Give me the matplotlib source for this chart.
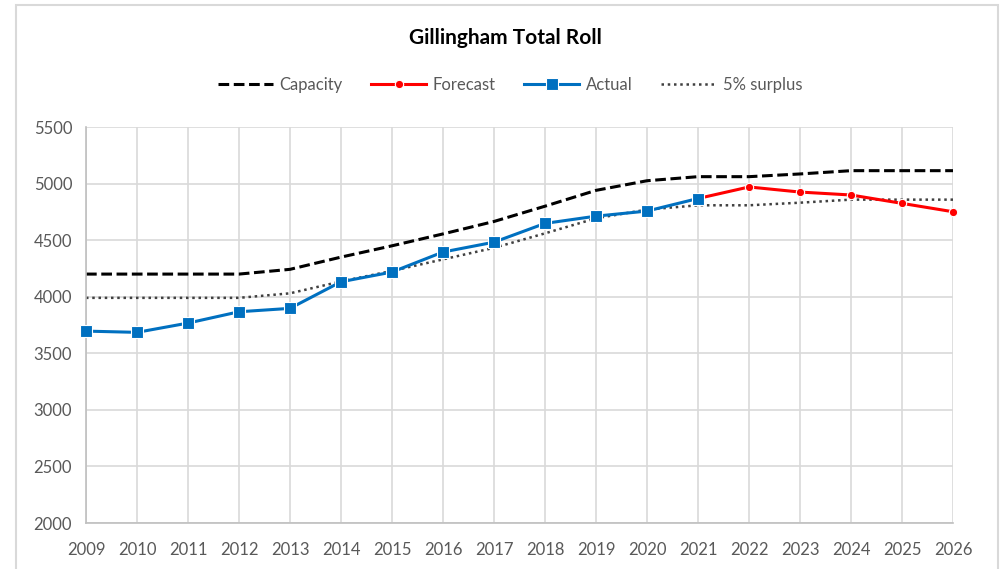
import matplotlib
matplotlib.use("Agg")
import matplotlib.pyplot as plt
from matplotlib.patches import Rectangle

years = list(range(2009, 2027))
capacity = [4200, 4200, 4200, 4200, 4242, 4350, 4450, 4555, 4665, 4800, 4940, 5025, 5061, 5061, 5085, 5114, 5114, 5114]
forecast_years = [2021, 2022, 2023, 2024, 2025, 2026]
forecast = [4868, 4970, 4925, 4899, 4825, 4751]
actual_years = list(range(2009, 2022))
actual = [3696, 3685, 3767, 3867, 3897, 4132, 4218, 4395, 4482, 4648, 4712, 4757, 4868]
surplus = [3990, 3990, 3990, 3990, 4030, 4135, 4228, 4330, 4432, 4560, 4693, 4770, 4808, 4808, 4831, 4858, 4858, 4858]
yticks = [2000, 2500, 3000, 3500, 4000, 4500, 5000, 5500]

plt.rcParams['font.family'] = ['Lato', 'DejaVu Sans']

fig = plt.figure(figsize=(10.04, 5.69), dpi=100)
ax = fig.add_axes([86/1004, 1-523/569, (953-86)/1004, (523-127)/569])

# outer chart border
fig.patches.append(Rectangle((16/1004, -0.05), (998-16)/1004, 1.05 - 5/569,
                             transform=fig.transFigure, fill=False,
                             edgecolor='#d9d9d9', linewidth=1.5))

l1, = ax.plot(years, capacity, color='black', linestyle=(0, (3.5, 1.5)), linewidth=2.2, label='Capacity')
l2, = ax.plot(forecast_years, forecast, color='#ff0000', linewidth=2.2, marker='o', markersize=6,
              markeredgecolor='white', markeredgewidth=0.8, label='Forecast', clip_on=False)
l3, = ax.plot(actual_years, actual, color='#0070c0', linewidth=2.2, marker='s', markersize=8,
              markeredgecolor='white', markeredgewidth=0.8, label='Actual', clip_on=False)
l4, = ax.plot(years, surplus, color='#404040', linestyle=(0, (1, 1.5)), linewidth=1.8, label='5% surplus')
l2.set_zorder(4)
l3.set_zorder(5)

ax.set_xlim(2009, 2026)
ax.set_ylim(2000, 5500)
ax.set_xticks(years)
ax.set_yticks(yticks)
ax.grid(True, color='#d9d9d9', linewidth=1.2)
ax.set_axisbelow(True)
for s in ['top', 'right']:
    ax.spines[s].set_visible(False)
for s in ['left', 'bottom']:
    ax.spines[s].set_color('#bfbfbf')
    ax.spines[s].set_linewidth(1.2)
ax.tick_params(axis='both', length=0, labelsize=12, labelcolor='#595959')
ax.tick_params(axis='x', pad=14)
ax.tick_params(axis='y', pad=10)

fig.text(505/1004, 1-38/569, 'Gillingham Total Roll', ha='center', va='center',
         fontsize=15, fontweight='bold', color='black')

fig.legend(handles=[l1, l2, l3, l4], loc='center', bbox_to_anchor=(510/1004, 1-85/569),
           ncol=4, frameon=False, fontsize=12, labelcolor='#595959',
           handlelength=3.3, handletextpad=0.4, columnspacing=1.7)

fig.savefig('out.png', dpi=100)
